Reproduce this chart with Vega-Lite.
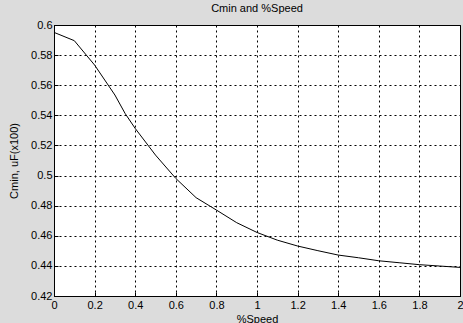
{
  "$schema": "https://vega.github.io/schema/vega-lite/v6.json",
  "autosize": "none",
  "width": 406,
  "height": 271,
  "padding": {"left": 54, "top": 25, "right": 3, "bottom": 27},
  "background": "#dcdcdc",
  "title": {"text": "Cmin and %Speed", "font": "Liberation Sans", "fontSize": 11, "fontWeight": "normal", "color": "#000", "offset": 5},
  "config": {
    "view": {"fill": "white", "stroke": "black", "strokeWidth": 1},
    "axis": {
      "labelFont": "Liberation Sans", "labelFontSize": 11, "labelColor": "#000",
      "titleFont": "Liberation Sans", "titleFontSize": 11, "titleFontWeight": "normal", "titleColor": "#000",
      "domainColor": "#000", "tickColor": "#000", "tickSize": -4,
      "gridColor": "#000", "gridDash": [2, 3], "gridOpacity": 1, "gridWidth": 1
    }
  },
  "data": {"values": [
    {"speed": 0.0, "cmin": 0.5951},
    {"speed": 0.1, "cmin": 0.5896},
    {"speed": 0.2, "cmin": 0.5734},
    {"speed": 0.3, "cmin": 0.5535},
    {"speed": 0.35, "cmin": 0.5413},
    {"speed": 0.4, "cmin": 0.5313},
    {"speed": 0.5, "cmin": 0.5136},
    {"speed": 0.6, "cmin": 0.4981},
    {"speed": 0.7, "cmin": 0.4853},
    {"speed": 0.8, "cmin": 0.4771},
    {"speed": 0.9, "cmin": 0.4687},
    {"speed": 1.0, "cmin": 0.4622},
    {"speed": 1.1, "cmin": 0.4571},
    {"speed": 1.2, "cmin": 0.4532},
    {"speed": 1.3, "cmin": 0.4501},
    {"speed": 1.4, "cmin": 0.4472},
    {"speed": 1.5, "cmin": 0.4454},
    {"speed": 1.6, "cmin": 0.4434},
    {"speed": 1.7, "cmin": 0.4421},
    {"speed": 1.8, "cmin": 0.4408},
    {"speed": 1.9, "cmin": 0.4399},
    {"speed": 2.0, "cmin": 0.4390}
  ]},
  "mark": {"type": "line", "color": "black", "strokeWidth": 1},
  "encoding": {
    "x": {
      "field": "speed", "type": "quantitative",
      "scale": {"domain": [0, 2], "nice": false, "zero": false},
      "axis": {"title": "%Speed", "values": [0, 0.2, 0.4, 0.6, 0.8, 1, 1.2, 1.4, 1.6, 1.8, 2], "format": "~g", "labelPadding": 7, "titlePadding": 3, "labelFlush": false}
    },
    "y": {
      "field": "cmin", "type": "quantitative",
      "scale": {"domain": [0.42, 0.6], "nice": false, "zero": false},
      "axis": {"title": "Cmin, uF(x100)", "values": [0.42, 0.44, 0.46, 0.48, 0.5, 0.52, 0.54, 0.56, 0.58, 0.6], "format": "~g", "labelPadding": 6, "titlePadding": 11, "labelFlush": false}
    }
  }
}
